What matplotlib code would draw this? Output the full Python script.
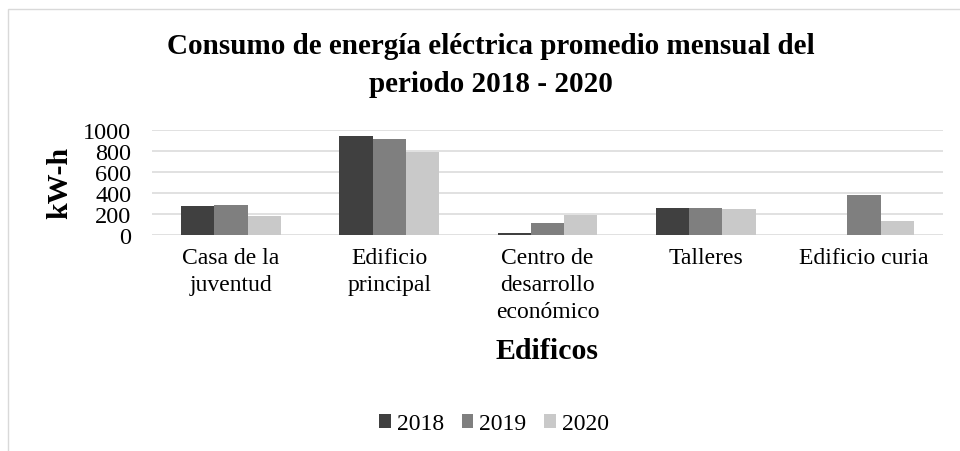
import numpy as np
import matplotlib.pyplot as plt
from matplotlib.patches import Patch, Rectangle

plt.rcParams["font.family"] = ["Liberation Serif", "DejaVu Serif"]

# Consumo promedio mensual por edificio (kW-h)
edificios = [
    "Casa de la\njuventud",
    "Edificio\nprincipal",
    "Centro de\ndesarrollo\neconómico",
    "Talleres",
    "Edificio curia",
]
anios = ["2018", "2019", "2020"]
consumo_2018 = [280, 943, 16, 255, 0]
consumo_2019 = [282, 914, 118, 255, 379]
consumo_2020 = [185, 787, 191, 245, 134]
colores = ["#404040", "#7f7f7f", "#c9c9c9"]

fig = plt.figure(figsize=(9.6, 4.52), dpi=100)
W, H = 960, 452
ax = fig.add_axes([152 / W, 1 - 236 / H, (943 - 152) / W, (236 - 131) / H])

x = np.arange(len(edificios))
ancho = 0.21
series = [consumo_2018, consumo_2019, consumo_2020]
for i, (vals, col) in enumerate(zip(series, colores)):
    ax.bar(x + (i - 1) * ancho, vals, width=ancho, color=col, zorder=3)

ax.set_xlim(-0.5, len(edificios) - 0.5)
ax.set_ylim(0, 1000)
ax.set_yticks(range(0, 1001, 200))
ax.grid(axis="y", color="#d9d9d9", linewidth=1.1, zorder=0)
for s in ax.spines.values():
    s.set_visible(False)
ax.tick_params(axis="both", length=0)
ax.tick_params(axis="y", pad=15, labelsize=17.5)
ax.tick_params(axis="x", pad=9, labelsize=17)
ax.set_xticks(x)
ax.set_xticklabels(edificios, linespacing=1.37, va="top")

fig.text(491 / W, 1 - 47 / H, "Consumo de energía eléctrica promedio mensual del",
         ha="center", va="center", fontsize=21, fontweight="bold")
fig.text(491 / W, 1 - 85 / H, "periodo 2018 - 2020",
         ha="center", va="center", fontsize=21, fontweight="bold")
fig.text(547 / W, 1 - 352 / H, "Edificos", ha="center", va="center",
         fontsize=21.5, fontweight="bold")
fig.text(60 / W, 1 - 183 / H, "kW-h", ha="center", va="center",
         rotation=90, fontsize=21.5, fontweight="bold")

handles = [Patch(facecolor=c, edgecolor="none") for c in colores]
fig.legend(handles, anios, loc="center", bbox_to_anchor=(494 / W, 1 - 425 / H),
           ncol=3, frameon=False, fontsize=17, handlelength=0.5,
           handleheight=0.5, handletextpad=0.25, columnspacing=0.75)

# marco del área del gráfico
fig.patches.append(Rectangle((8 / W, -0.1), 1.2, 1.1 - 10 / H,
                             transform=fig.transFigure, fill=False,
                             edgecolor="#d9d9d9", linewidth=1.0))

fig.savefig("out.png", dpi=100)
